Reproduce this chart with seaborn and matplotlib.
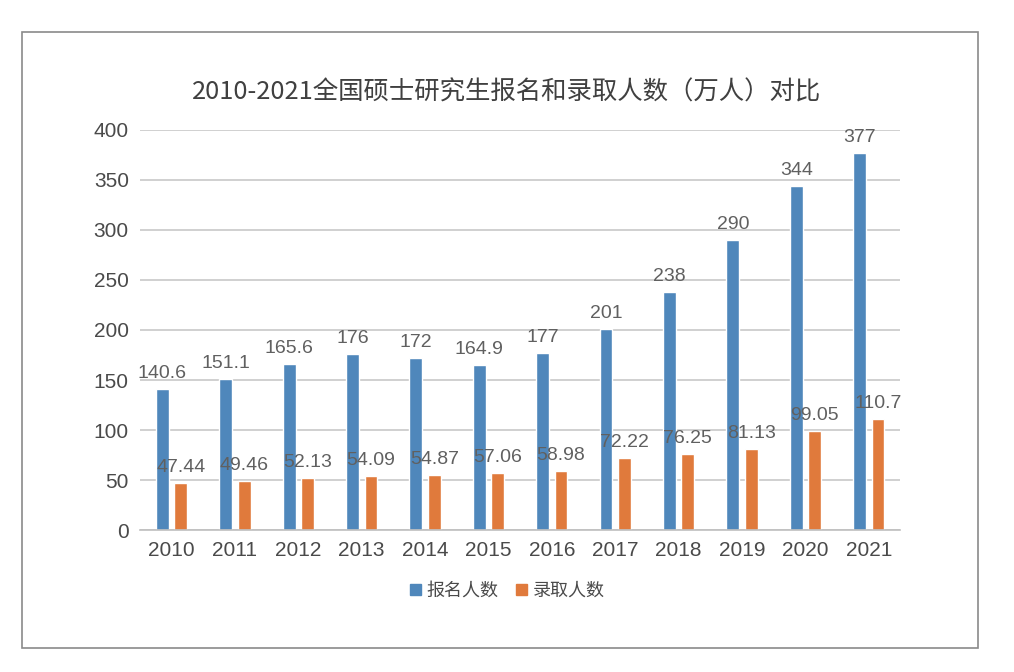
import matplotlib
matplotlib.use("Agg")
import matplotlib.pyplot as plt
import matplotlib.patches as mpatches
import pandas as pd
import seaborn as sns

years = ["2010", "2011", "2012", "2013", "2014", "2015",
         "2016", "2017", "2018", "2019", "2020", "2021"]
applicants = [140.6, 151.1, 165.6, 176, 172, 164.9, 177, 201, 238, 290, 344, 377]
admitted = [47.44, 49.46, 52.13, 54.09, 54.87, 57.06, 58.98, 72.22, 76.25, 81.13, 99.05, 110.7]
series_names = ["报名人数", "录取人数"]
colors = ["#4f87bb", "#e07a3c"]

sns.set_theme(style="white")
plt.rcParams['font.family'] = ['Liberation Sans', 'Noto Sans CJK SC', 'DejaVu Sans']

df = pd.DataFrame({
    "year": years * 2,
    "value": applicants + admitted,
    "series": [series_names[0]] * len(years) + [series_names[1]] * len(years),
})

fig = plt.figure(figsize=(10.14, 6.72), dpi=100)
fig.patch.set_facecolor("white")
ax = fig.add_axes([0.138, 0.211, 0.75, 0.596])

sns.barplot(data=df, x="year", y="value", hue="series", palette=colors,
            saturation=1, width=0.58, gap=0.3, ax=ax, legend=False)

ax.set_xlim(-0.5, 11.5)
ax.set_ylim(0, 400)
ax.set_yticks(range(0, 401, 50))
ax.yaxis.grid(True, color="#c8c8c8", linewidth=1.2)
ax.set_axisbelow(True)
for s in ["top", "right", "left"]:
    ax.spines[s].set_visible(False)
ax.spines["bottom"].set_color("#bfbfbf")
ax.spines["bottom"].set_linewidth(1.2)
ax.tick_params(axis="both", length=0, labelsize=15, colors="#4a4a4a", pad=8)
ax.set_xlabel("")
ax.set_ylabel("")

for cont in ax.containers:
    labels = [f"{v:g}" for v in cont.datavalues]
    ax.bar_label(cont, labels=labels, padding=5, fontsize=14, color="#606060")

fig.text(0.5, 0.862, "2010-2021全国硕士研究生报名和录取人数（万人）对比",
         ha="center", va="center", fontsize=18.3, color="#404040",
         family=['Noto Sans CJK SC', 'DejaVu Sans'])

handles = [mpatches.Patch(color=c, label=n) for c, n in zip(colors, series_names)]
fig.legend(handles=handles, loc="center", bbox_to_anchor=(0.5, 0.121), ncol=2,
           frameon=False, fontsize=13, handlelength=0.6, handleheight=0.6,
           handletextpad=0.3, columnspacing=1.0, labelcolor="#4a4a4a",
           prop={'family': ['Noto Sans CJK SC', 'DejaVu Sans'], 'size': 13})

frame = mpatches.Rectangle((22 / 1014, 1 - 648 / 672), 956 / 1014, 616 / 672,
                           transform=fig.transFigure, fill=False,
                           edgecolor="#8a8a8a", linewidth=1.2)
fig.patches.append(frame)

fig.savefig("out.png", dpi=100)
